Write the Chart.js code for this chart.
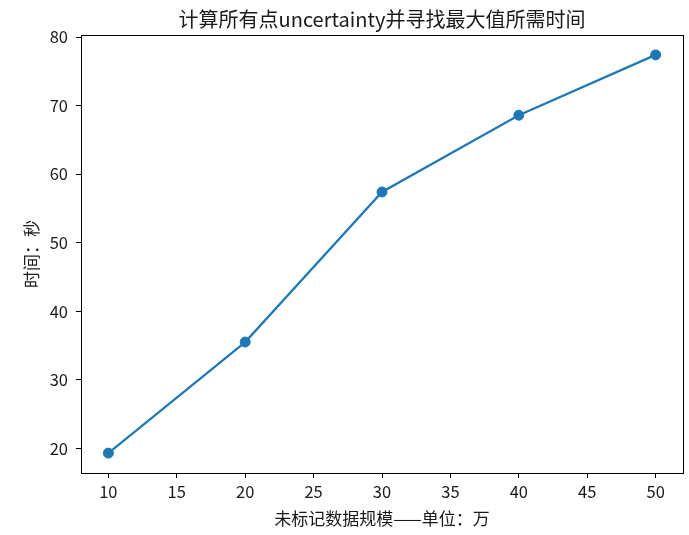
<!DOCTYPE html>
<html>
<head>
<meta charset="utf-8">
<script src="https://cdn.jsdelivr.net/npm/chart.js@4/dist/chart.umd.min.js"></script>
<style>
  html, body { margin: 0; padding: 0; background: #fff; }
  #wrap { width: 689px; height: 535px; }
</style>
</head>
<body>
<div id="wrap"><canvas id="c" width="689" height="535"></canvas></div>
<script>
// Unlabeled data size (units of 10,000) and time taken (seconds)
const sizes = [10, 20, 30, 40, 50];
const times = [19.3, 35.5, 57.4, 68.6, 77.4];
const xTicks = [10, 15, 20, 25, 30, 35, 40, 45, 50];
const yTicks = [20, 30, 40, 50, 60, 70, 80];

const titleText = '计算所有点uncertainty并寻找最大值所需时间';
const xLabel = '未标记数据规模——单位：万';
const yLabel = '时间：秒';

const FONT = "'Noto Sans CJK SC', 'Noto Sans', sans-serif";
const INK = '#1a1a1a';

// Frame around the plot area (top and right edges included)
const framePlugin = {
  id: 'frame',
  afterDatasetsDraw(chart) {
    const { ctx, chartArea: a } = chart;
    ctx.save();
    ctx.strokeStyle = '#000';
    ctx.lineWidth = 1;
    ctx.strokeRect(Math.round(a.left) + 0.5, Math.round(a.top) + 0.5,
                   Math.round(a.right - a.left), Math.round(a.bottom - a.top));
    ctx.restore();
  }
};

new Chart(document.getElementById('c'), {
  type: 'line',
  data: {
    datasets: [{
      data: sizes.map((x, i) => ({ x, y: times[i] })),
      borderColor: '#1f77b4',
      backgroundColor: '#1f77b4',
      borderWidth: 2.2,
      pointRadius: 5,
      pointBorderWidth: 1,
      pointBackgroundColor: '#1f77b4',
      pointBorderColor: '#1f77b4',
      tension: 0,
      fill: false
    }]
  },
  options: {
    responsive: false,
    animation: false,
    devicePixelRatio: 1,
    layout: { padding: { left: 0, right: 5, top: 0, bottom: 0 } },
    plugins: {
      legend: { display: false },
      tooltip: { enabled: false },
      title: {
        display: true,
        fullSize: false,
        text: titleText,
        color: INK,
        font: { family: FONT, size: 20, weight: 'normal' },
        padding: { top: 7, bottom: 4 }
      }
    },
    scales: {
      x: {
        type: 'linear',
        min: 8,
        max: 52,
        afterBuildTicks(scale) { scale.ticks = xTicks.map(v => ({ value: v })); },
        afterFit(scale) { scale.height = 62; },
        grid: { drawOnChartArea: false, drawTicks: true, tickLength: 5, color: '#000', lineWidth: 1 },
        border: { display: true, color: '#000', width: 1 },
        ticks: { color: INK, font: { family: FONT, size: 16.5 }, padding: 4, maxRotation: 0, autoSkip: false },
        title: {
          display: true,
          text: xLabel,
          color: INK,
          font: { family: FONT, size: 17 },
          padding: { top: 5.8, bottom: 5.8 }
        }
      },
      y: {
        type: 'linear',
        min: 16.4,
        max: 80.3,
        afterBuildTicks(scale) { scale.ticks = yTicks.map(v => ({ value: v })); },
        afterFit(scale) { scale.width = 81; },
        grid: { drawOnChartArea: false, drawTicks: true, tickLength: 5, color: '#000', lineWidth: 1 },
        border: { display: true, color: '#000', width: 1 },
        ticks: { color: INK, font: { family: FONT, size: 16.5 }, padding: 8, autoSkip: false },
        title: {
          display: true,
          text: yLabel,
          color: INK,
          font: { family: FONT, size: 17 },
          padding: { top: 21, bottom: 21 }
        }
      }
    }
  },
  plugins: [framePlugin]
});
</script>
</body>
</html>
